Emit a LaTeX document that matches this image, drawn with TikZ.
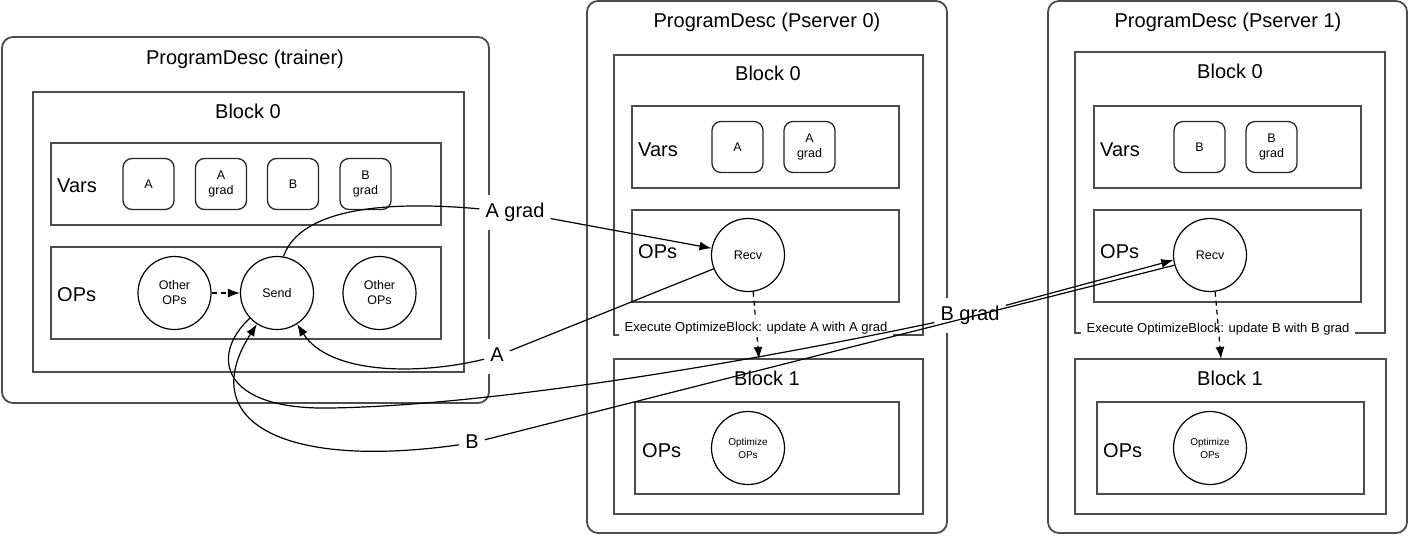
\documentclass[tikz,border=0pt]{standalone}
\usepackage{fontspec}
\setmainfont{Liberation Sans}
\usetikzlibrary{arrows.meta}
\tikzset{
	boxline/.style={draw=black!70, line width=1.8pt},
	progframe/.style={boxline, rounded corners=11pt},
	heading/.style={anchor=base, inner sep=0pt, font=\fontsize{20}{24}\selectfont},
	sectlabel/.style={anchor=base west, inner sep=0pt, font=\fontsize{20}{24}\selectfont},
	varnode/.style={draw=black!85, line width=1.3pt, rounded corners=9pt, minimum size=51pt,
		inner sep=0pt, align=center, font=\fontsize{12.5}{15}\selectfont},
	opnode/.style={circle, draw, line width=1.2pt, minimum size=73pt, inner sep=0pt,
		align=center, font=\fontsize{12.5}{15}\selectfont},
	optnode/.style={opnode, font=\fontsize{10}{13}\selectfont},
	msg/.style={fill=white, inner xsep=6pt, inner ysep=8pt, text height=14.5pt, text depth=4.5pt,
		font=\fontsize{20}{24}\selectfont},
	note/.style={anchor=base, fill=white, inner xsep=6pt, inner ysep=3pt, font=\fontsize{13}{15}\selectfont},
	link/.style={line width=1.2pt},
	arrowend/.style={-{Latex[length=12pt,width=9pt]}},
	flow/.style={link, arrowend, dash pattern=on 5pt off 4pt}
}
\begin{document}
\begin{tikzpicture}[x=1pt, y=-1pt]
			\useasboundingbox (0,0) rectangle (1410,536);
			% trainer
			\draw[progframe] (2,37) rectangle (489,403);
			\node[heading] (ttitle) at (245,64) {ProgramDesc (trainer)};
			\draw[boxline] (33,92) rectangle (464,372);
			\node[heading] (tblk0) at (248,118) {Block 0};
			\draw[boxline] (51,143) rectangle (441,225);
			\node[sectlabel] (tvars) at (57,192) {Vars};
			\node[varnode] (tA) at (148.5,184) {A};
			\node[varnode] (tAgrad) at (221,184) {A\\grad};
			\node[varnode] (tB) at (293,184) {B};
			\node[varnode] (tBgrad) at (365.5,184) {B\\grad};
			\draw[boxline] (51,247) rectangle (441,339);
			\node[sectlabel] (tops) at (57,301) {OPs};
			\node[opnode] (other1) at (174.5,293) {Other\\OPs};
			\node[opnode] (send) at (277,293) {Send};
			\node[opnode] (other2) at (379.5,293) {Other\\OPs};
			\draw[flow] (other1) -- (send);
			% pserver 0
			\draw[progframe] (587,1) rectangle (947,533);
			\node[heading] (p0title) at (767,27) {ProgramDesc (Pserver 0)};
			\draw[boxline] (614,55) rectangle (923,335);
			\node[heading] (p0blk0) at (768,80) {Block 0};
			\draw[boxline] (632,106) rectangle (899,188);
			\node[sectlabel] (p0vars) at (638,156) {Vars};
			\node[varnode] (p0A) at (737.5,147) {A};
			\node[varnode] (p0Agrad) at (809.5,147) {A\\grad};
			\draw[boxline] (632,210) rectangle (899,302);
			\node[sectlabel] (p0ops) at (638,258) {OPs};
			\node[opnode] (recv0) at (748,255) {Recv};
			\draw[boxline] (614,359) rectangle (923,514);
			\node[heading] (p0blk1) at (767,385) {Block 1};
			\draw[boxline] (635,402) rectangle (899,494);
			\node[sectlabel] (p0opsb) at (642,457) {OPs};
			\node[optnode] (opt0) at (748,448) {Optimize\\OPs};
			\coordinate (p0in) at (759,359);
			\draw[flow] (recv0.278) -- (p0in);
			\node[note] (p0exec) at (756,331) {Execute OptimizeBlock: update A with A grad};
			% pserver 1
			\draw[progframe] (1048,1) rectangle (1407,533);
			\node[heading] (p1title) at (1228,27) {ProgramDesc (Pserver 1)};
			\draw[boxline] (1075,52) rectangle (1385,333);
			\node[heading] (p1blk0) at (1230,78) {Block 0};
			\draw[boxline] (1094,106) rectangle (1361,188);
			\node[sectlabel] (p1vars) at (1100,156) {Vars};
			\node[varnode] (p1B) at (1199.5,147) {B};
			\node[varnode] (p1Bgrad) at (1271.5,147) {B\\grad};
			\draw[boxline] (1094,210) rectangle (1361,302);
			\node[sectlabel] (p1ops) at (1100,258) {OPs};
			\node[opnode] (recv1) at (1210,255) {Recv};
			\draw[boxline] (1075,359) rectangle (1386,514);
			\node[heading] (p1blk1) at (1230,385) {Block 1};
			\draw[boxline] (1097,402) rectangle (1364,494);
			\node[sectlabel] (p1opsb) at (1103,457) {OPs};
			\node[optnode] (opt1) at (1210,448) {Optimize\\OPs};
			\node[note] (p1exec) at (1218,332) {Execute OptimizeBlock: update B with B grad};
			\coordinate (p1in) at (1221,359);
			\draw[flow] (recv1.278) -- (p1in);
			% messages
			\node[msg] (lAgrad) at (515,212) {A grad};
			\node[msg] (lA) at (497,356) {A};
			\node[msg] (lBgrad) at (970,315) {B grad};
			\node[msg] (lB) at (472,443) {B};
			\draw[link] (send.80) .. controls (300,210) and (380,200) .. (lAgrad);
			\draw[link, arrowend] (lAgrad) -- (recv0);
			\draw[link] (recv0) -- (lA);
			\draw[link, arrowend] (lA) .. controls (420,375) and (330,375) .. (send);
			\draw[link] (send) .. controls (210,355) and (220,410) .. (330,408)
				.. controls (470,406) and (700,372) .. (lBgrad);
			\draw[link, arrowend] (lBgrad) -- (recv1.188);
			\draw[link] (recv1.196) -- (lB);
			\draw[link, arrowend] (lB) .. controls (280,470) and (195,420) .. (send);
		\end{tikzpicture}
\end{document}
